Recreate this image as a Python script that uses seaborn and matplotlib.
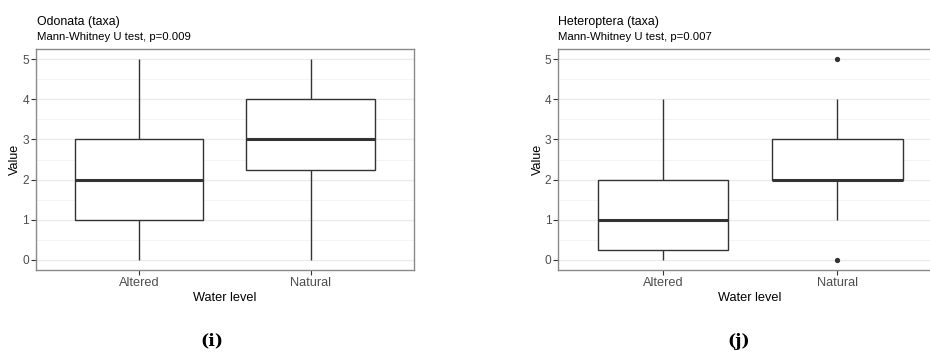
import numpy as np
import pandas as pd
import matplotlib
matplotlib.use("Agg")
import matplotlib.pyplot as plt
from matplotlib.ticker import MultipleLocator
import seaborn as sns

# ---- data (counts of taxa per site) ----
groups = ["Altered", "Natural"]
odonata_altered = [0, 1, 1, 2, 2, 3, 3, 5]
odonata_natural = [0, 1, 2, 3, 3, 3, 4, 4, 5, 5]
heteroptera_altered = [0, 0, 0, 1, 1, 1, 2, 2, 3, 4]
heteroptera_natural = [0, 1, 2, 2, 2, 2, 3, 3, 4, 5]

titles = ["Odonata (taxa)", "Heteroptera (taxa)"]
subtitles = ["Mann-Whitney U test, p=0.009", "Mann-Whitney U test, p=0.007"]
captions = ["(i)", "(j)"]
yticks = [0, 1, 2, 3, 4, 5]

def make_df(a, n):
    return pd.DataFrame({
        "Water level": [groups[0]] * len(a) + [groups[1]] * len(n),
        "Value": list(a) + list(n),
    })

dfs = [make_df(odonata_altered, odonata_natural),
       make_df(heteroptera_altered, heteroptera_natural)]

sns.set_theme(style="white")
plt.rcParams["font.family"] = ["Liberation Sans", "DejaVu Sans"]

W, H = 930, 358
fig = plt.figure(figsize=(W / 100, H / 100), dpi=100)

# axes in pixel coordinates: left, top, width, height
ax_px = [(36.0, 49.0, 377.5, 221.0), (558.3, 49.0, 383.7, 221.0)]
title_x = [36.7, 558.3]
caption_x = [211.5, 739.0]

for i, (df, (l, t, w, h)) in enumerate(zip(dfs, ax_px)):
    ax = fig.add_axes([l / W, 1 - (t + h) / H, w / W, h / H])
    ax.set_facecolor("white")
    # grid (theme_bw)
    ax.yaxis.set_minor_locator(MultipleLocator(0.5))
    ax.grid(True, which="major", axis="both", color="#ebebeb", linewidth=1.0, zorder=0)
    ax.grid(True, which="minor", axis="y", color="#f4f4f4", linewidth=0.7, zorder=0)
    ax.set_axisbelow(True)

    sns.boxplot(data=df, x="Water level", y="Value", order=groups, ax=ax,
                color="white", linecolor="#333333", linewidth=1.0, width=0.75,
                showcaps=False, whis=1.5,
                medianprops=dict(linewidth=2.2, color="#333333"),
                flierprops=dict(marker="o", markersize=2.8,
                                markerfacecolor="#333333", markeredgecolor="#333333"),
                saturation=1)

    ax.set_xlim(-0.6, 1.6)
    ax.set_ylim(-0.25, 5.25)
    ax.set_yticks(yticks)
    ax.set_yticklabels([str(v) for v in yticks])
    ax.tick_params(axis="y", which="minor", left=False)
    ax.tick_params(axis="both", which="major", length=3.5, width=0.8, color="#333333",
                   colors="#4d4d4d", pad=1.5, left=True, bottom=True)
    ax.tick_params(axis="x", labelsize=9.2)
    ax.tick_params(axis="y", labelsize=8.6)
    for lab in ax.get_xticklabels() + ax.get_yticklabels():
        lab.set_color("#4d4d4d")
    for sp in ax.spines.values():
        sp.set_color("#8a8a8a")
        sp.set_linewidth(1.0)
        sp.set_visible(True)
    ax.set_xlabel("Water level", fontsize=9.2, color="black", labelpad=2.5)
    ax.set_ylabel("Value", fontsize=9.0, color="black", labelpad=0.8)

    fig.text(title_x[i] / W, 1 - 25.0 / H, titles[i], fontsize=8.9,
             ha="left", va="baseline", color="black")
    fig.text(title_x[i] / W, 1 - 40.0 / H, subtitles[i], fontsize=8.2,
             ha="left", va="baseline", color="black")
    fig.text(caption_x[i] / W, 1 - 341.0 / H, captions[i], fontsize=12.5,
             ha="center", va="center", color="black",
             family=["DejaVu Serif"], fontweight="bold")

fig.savefig("out.png", dpi=100, facecolor="white")
